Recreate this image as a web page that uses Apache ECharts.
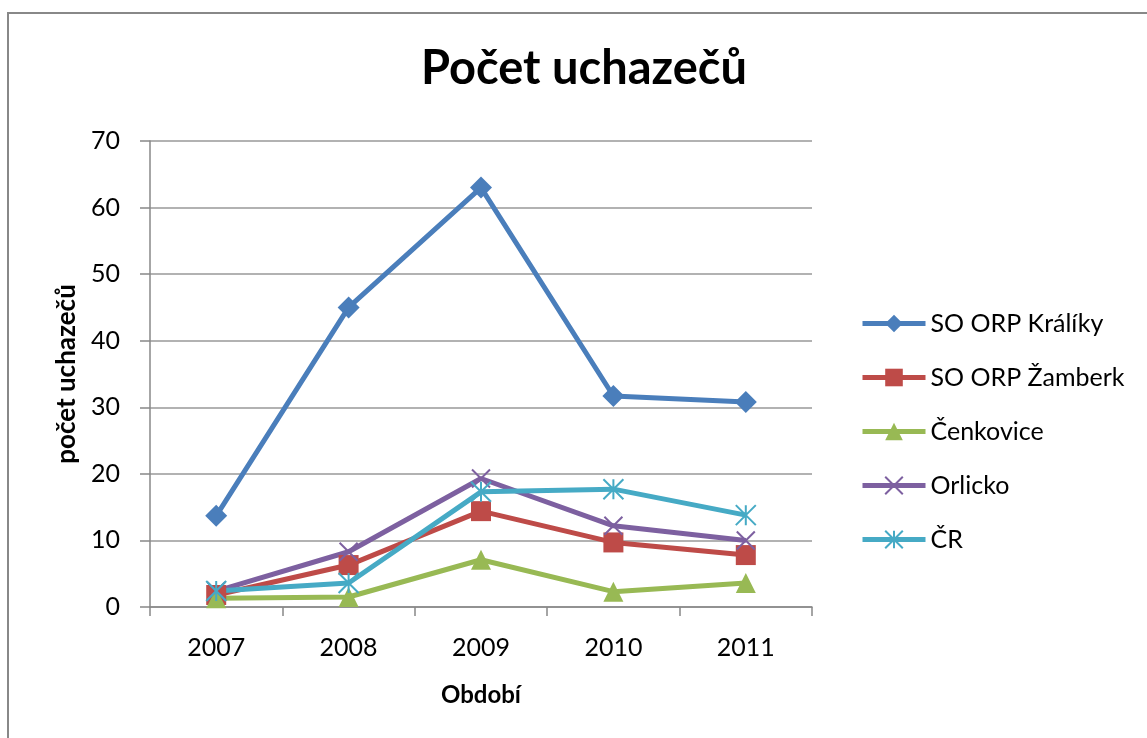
<!DOCTYPE html>
<html>
<head>
<meta charset="utf-8">
<script src="https://cdn.jsdelivr.net/npm/echarts@6/dist/echarts.min.js"></script>
<style>
  html, body { margin: 0; padding: 0; background: #fff; }
  #main { width: 1147px; height: 738px; }
</style>
</head>
<body>
<div id="main"></div>
<script>
var years = ["2007", "2008", "2009", "2010", "2011"];

var kralikyData = [13.7, 45, 63, 31.7, 30.8];
var zamberkData = [1.8, 6.3, 14.4, 9.7, 7.8];
var cenkoviceData = [1.3, 1.5, 7.1, 2.3, 3.6];
var orlickoData = [2.4, 8.3, 19.3, 12.2, 10.0];
var crData = [2.4, 3.6, 17.3, 17.7, 13.8];

var FONT = "Lato";
var xMark = "path://M0,0L10,10M10,0L0,10";
var starMark = "path://M5,0L5,10M0,0L10,10M10,0L0,10";

function lineSeries(name, data, color, symbol, size, hollow) {
  return {
    name: name,
    type: "line",
    data: data,
    symbol: symbol,
    symbolSize: size,
    lineStyle: { color: color, width: 5 },
    itemStyle: hollow
      ? { color: "rgba(0,0,0,0)", borderColor: color, borderWidth: 2 }
      : { color: color },
    emphasis: { disabled: true },
    z: 2,
  };
}

var chart = echarts.init(document.getElementById("main"));

var option = {
  animation: false,
  backgroundColor: "#fff",
  textStyle: { fontFamily: FONT },
  title: {
    text: "Počet uchazečů",
    left: 416,
    top: 40,
    textStyle: { fontFamily: FONT, fontSize: 47, fontWeight: "bold", color: "#000" },
  },
  graphic: [
    {
      type: "rect",
      shape: { x: 8, y: 13, width: 1200, height: 800 },
      style: { fill: "none", stroke: "#888", lineWidth: 2 },
      silent: true,
    },
  ],
  legend: {
    orient: "vertical",
    left: 855,
    top: 306,
    itemWidth: 63,
    itemHeight: 22,
    itemGap: 29,
    lineStyle: { width: 5 },
    textStyle: { fontFamily: FONT, fontSize: 25, color: "#000" },
    data: ["SO ORP Králíky", "SO ORP Žamberk", "Čenkovice", "Orlicko", "ČR"],
  },
  grid: { left: 150, right: 335, top: 141, bottom: 131 },
  xAxis: {
    type: "category",
    data: years,
    boundaryGap: true,
    name: "Období",
    nameLocation: "middle",
    nameGap: 76,
    nameTextStyle: { fontFamily: FONT, fontSize: 24, fontWeight: "bold", color: "#000" },
    axisLine: { lineStyle: { color: "#888", width: 1.5 } },
    axisTick: { show: true, length: 9, lineStyle: { color: "#888", width: 1.5 } },
    axisLabel: { fontFamily: FONT, fontSize: 25, color: "#000", margin: 28 },
  },
  yAxis: {
    type: "value",
    min: 0,
    max: 70,
    interval: 10,
    name: "počet uchazečů",
    nameLocation: "middle",
    nameGap: 69,
    nameTextStyle: { fontFamily: FONT, fontSize: 26, fontWeight: "bold", color: "#000" },
    axisLine: { show: true, lineStyle: { color: "#888", width: 1.5 } },
    axisTick: { show: true, length: 10, lineStyle: { color: "#888", width: 1.5 } },
    axisLabel: { fontFamily: FONT, fontSize: 25, color: "#000", margin: 30 },
    splitLine: { lineStyle: { color: "#999", width: 1.5 } },
  },
  series: [
    lineSeries("SO ORP Králíky", kralikyData, "#4A7EBB", "diamond", 22, false),
    lineSeries("SO ORP Žamberk", zamberkData, "#BE4B48", "rect", 20, false),
    lineSeries("Čenkovice", cenkoviceData, "#98B954", "triangle", 20, false),
    lineSeries("Orlicko", orlickoData, "#7D60A0", xMark, 18, true),
    lineSeries("ČR", crData, "#46AAC5", starMark, 20, true),
  ],
};

chart.setOption(option);
</script>
</body>
</html>
